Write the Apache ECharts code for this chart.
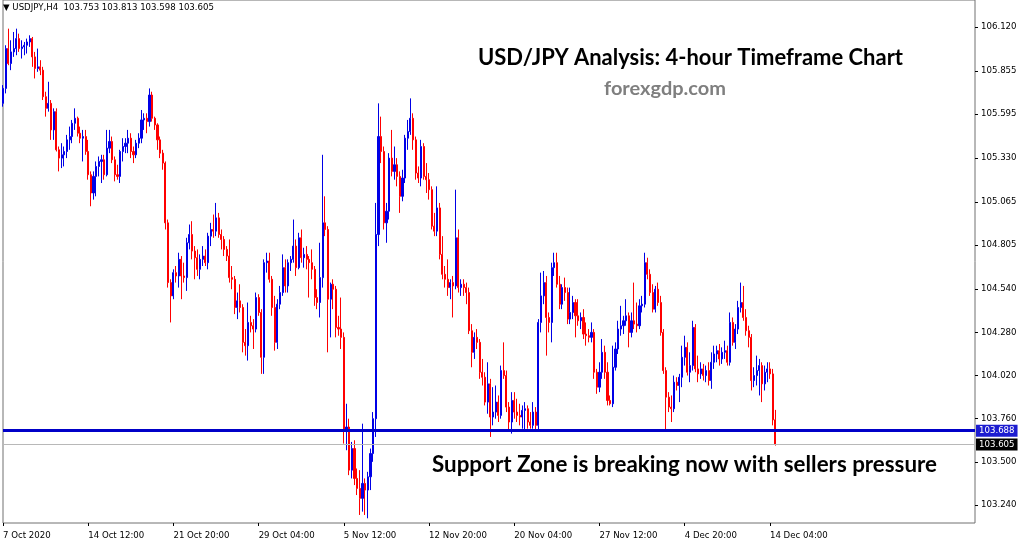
<!DOCTYPE html>
<html>
<head>
<meta charset="utf-8">
<script src="https://cdn.jsdelivr.net/npm/echarts@6/dist/echarts.min.js"></script>
<style>
html,body{margin:0;padding:0;background:#ffffff;}
#chart{width:1024px;height:546px;}
</style>
</head>
<body>
<div id="chart"></div>
<script>
// ---------- data ----------
const symbolName = 'USDJPY,H4';
// [open, high, low, close], one row per H4 bar starting 7 Oct 2020 04:00
const candles = [
[105.66,105.77,105.64,105.75],[105.75,106.01,105.72,105.99],[105.99,106.11,105.89,105.90],[105.90,106.04,105.86,105.97],
[105.97,106.09,105.94,105.99],[105.99,106.11,105.95,106.05],[106.05,106.08,105.97,105.99],[105.99,106.04,105.93,106.00],
[106.00,106.03,105.95,106.01],[106.01,106.05,105.96,106.03],[106.03,106.07,106.00,106.05],[106.05,106.06,105.88,105.94],
[105.94,105.97,105.81,105.87],[105.87,105.99,105.85,105.88],[105.88,105.92,105.83,105.86],[105.86,105.88,105.68,105.70],
[105.70,105.73,105.58,105.63],[105.63,105.79,105.61,105.66],[105.66,105.68,105.44,105.50],[105.50,105.63,105.44,105.61],
[105.61,105.63,105.37,105.38],[105.38,105.40,105.25,105.33],[105.33,105.42,105.27,105.35],[105.35,105.40,105.28,105.37],
[105.37,105.47,105.33,105.44],[105.44,105.52,105.38,105.46],[105.46,105.56,105.42,105.54],[105.54,105.63,105.50,105.57],
[105.57,105.58,105.46,105.48],[105.48,105.52,105.42,105.45],[105.45,105.50,105.31,105.46],[105.46,105.50,105.35,105.37],
[105.37,105.44,105.20,105.23],[105.23,105.25,105.04,105.12],[105.12,105.25,105.08,105.22],[105.22,105.31,105.10,105.28],
[105.28,105.34,105.22,105.31],[105.31,105.35,105.18,105.32],[105.32,105.35,105.20,105.23],[105.23,105.50,105.22,105.39],
[105.39,105.50,105.36,105.43],[105.43,105.46,105.30,105.32],[105.32,105.34,105.19,105.23],[105.23,105.29,105.20,105.22],
[105.22,105.38,105.18,105.37],[105.37,105.45,105.31,105.40],[105.40,105.45,105.36,105.42],[105.42,105.50,105.36,105.45],
[105.45,105.48,105.33,105.37],[105.37,105.40,105.30,105.35],[105.35,105.44,105.33,105.42],[105.42,105.48,105.39,105.45],
[105.45,105.62,105.42,105.56],[105.56,105.60,105.50,105.57],[105.57,105.60,105.48,105.55],[105.55,105.75,105.52,105.71],
[105.71,105.73,105.55,105.57],[105.57,105.58,105.50,105.53],[105.53,105.54,105.38,105.44],[105.44,105.46,105.33,105.36],
[105.36,105.38,105.26,105.30],[105.30,105.31,104.90,104.94],[104.94,104.96,104.55,104.58],[104.58,104.60,104.34,104.50],
[104.50,104.66,104.48,104.64],[104.64,104.68,104.58,104.62],[104.62,104.76,104.55,104.72],[104.72,104.74,104.48,104.62],
[104.62,104.70,104.58,104.61],[104.61,104.85,104.53,104.82],[104.82,104.93,104.78,104.87],[104.87,104.95,104.72,104.77],
[104.77,104.80,104.60,104.73],[104.73,104.78,104.62,104.66],[104.66,104.75,104.60,104.72],[104.72,104.80,104.68,104.74],
[104.74,104.78,104.68,104.70],[104.70,104.88,104.66,104.86],[104.86,104.94,104.80,104.90],[104.90,104.99,104.85,104.89],
[104.89,105.06,104.86,104.97],[104.97,105.00,104.85,104.87],[104.87,104.90,104.78,104.84],[104.84,104.86,104.74,104.78],
[104.78,104.80,104.71,104.74],[104.74,104.84,104.58,104.61],[104.61,104.68,104.54,104.60],[104.60,104.62,104.39,104.43],
[104.43,104.52,104.36,104.47],[104.47,104.57,104.40,104.43],[104.43,104.45,104.16,104.22],[104.22,104.30,104.14,104.20],
[104.20,104.46,104.11,104.34],[104.34,104.38,104.28,104.32],[104.32,104.36,104.18,104.30],[104.30,104.52,104.28,104.49],
[104.49,104.51,104.38,104.40],[104.40,104.42,104.03,104.13],[104.13,104.72,104.03,104.70],[104.70,104.76,104.64,104.71],
[104.71,104.76,104.58,104.60],[104.60,104.62,104.38,104.43],[104.43,104.50,104.17,104.22],[104.22,104.48,104.18,104.45],
[104.45,104.56,104.42,104.52],[104.52,104.75,104.50,104.67],[104.67,104.72,104.52,104.56],[104.56,104.72,104.52,104.70],
[104.70,104.74,104.65,104.72],[104.72,104.96,104.70,104.80],[104.80,104.84,104.62,104.67],[104.67,104.88,104.66,104.85],
[104.85,104.90,104.70,104.73],[104.73,104.79,104.67,104.75],[104.75,104.80,104.66,104.72],[104.72,104.74,104.49,104.70],
[104.70,104.78,104.60,104.66],[104.66,104.68,104.44,104.49],[104.49,104.54,104.42,104.46],[104.46,104.82,104.37,104.61],
[104.61,105.35,104.55,104.94],[104.94,105.10,104.86,104.90],[104.90,104.92,104.16,104.48],[104.48,104.58,104.25,104.57],
[104.57,104.60,104.42,104.54],[104.54,104.56,104.25,104.31],[104.31,104.38,104.26,104.30],[104.30,104.49,104.18,104.25],
[104.25,104.28,103.61,103.69],[103.69,103.85,103.57,103.71],[103.71,103.76,103.42,103.45],[103.45,103.62,103.40,103.58],
[103.58,103.63,103.36,103.40],[103.40,103.46,103.30,103.34],[103.34,103.45,103.18,103.28],[103.28,103.73,103.20,103.37],
[103.37,103.40,103.18,103.33],[103.33,103.44,103.16,103.41],[103.41,103.58,103.33,103.55],[103.55,103.80,103.50,103.76],
[103.76,105.06,103.65,104.87],[104.87,105.66,104.80,105.46],[105.46,105.58,105.30,105.37],[105.37,105.40,104.90,104.94],
[104.94,105.06,104.82,105.01],[105.01,105.36,104.96,105.33],[105.33,105.50,105.22,105.25],[105.25,105.40,105.20,105.29],
[105.29,105.33,105.16,105.22],[105.22,105.25,105.00,105.10],[105.10,105.26,105.07,105.21],[105.21,105.47,105.18,105.45],
[105.45,105.56,105.38,105.49],[105.49,105.69,105.47,105.57],[105.57,105.60,105.38,105.44],[105.44,105.46,105.20,105.24],
[105.24,105.28,105.18,105.21],[105.21,105.44,105.16,105.40],[105.40,105.42,105.20,105.22],[105.22,105.30,105.12,105.20],
[105.20,105.24,105.08,105.14],[105.14,105.16,104.90,104.92],[104.92,105.00,104.86,104.89],[104.89,105.16,104.86,105.03],
[105.03,105.06,104.72,104.75],[104.75,104.86,104.60,104.63],[104.63,104.68,104.55,104.60],[104.60,104.72,104.50,104.55],
[104.55,104.60,104.48,104.58],[104.58,104.62,104.37,104.56],[104.56,105.14,104.54,104.85],[104.85,104.90,104.52,104.55],
[104.55,104.60,104.50,104.57],[104.57,104.60,104.50,104.55],[104.55,104.58,104.45,104.52],[104.52,104.55,104.27,104.29],
[104.29,104.33,104.07,104.16],[104.16,104.28,104.12,104.25],[104.25,104.30,104.18,104.22],[104.22,104.24,104.00,104.04],
[104.04,104.12,103.96,104.01],[104.01,104.04,103.84,103.86],[103.86,104.10,103.79,103.97],[103.97,104.00,103.65,103.77],
[103.77,103.95,103.72,103.80],[103.80,103.96,103.76,103.86],[103.86,103.90,103.74,103.78],[103.78,104.08,103.76,104.05],
[104.05,104.22,104.00,104.02],[104.02,104.05,103.80,103.83],[103.83,103.86,103.69,103.74],[103.74,103.92,103.67,103.87],
[103.87,103.92,103.76,103.80],[103.80,103.88,103.74,103.78],[103.78,103.85,103.72,103.77],[103.77,103.84,103.70,103.81],
[103.81,103.86,103.68,103.82],[103.82,103.84,103.70,103.74],[103.74,103.80,103.70,103.72],[103.72,103.86,103.70,103.80],
[103.80,103.83,103.68,103.72],[103.72,104.36,103.69,104.34],[104.34,104.64,104.28,104.50],[104.50,104.65,104.45,104.58],
[104.58,104.62,104.14,104.37],[104.37,104.40,104.28,104.34],[104.34,104.70,104.22,104.67],[104.67,104.76,104.62,104.70],
[104.70,104.76,104.55,104.57],[104.57,104.62,104.42,104.45],[104.45,104.57,104.42,104.55],[104.55,104.61,104.47,104.52],
[104.52,104.55,104.33,104.36],[104.36,104.55,104.33,104.40],[104.40,104.50,104.36,104.46],[104.46,104.48,104.25,104.38],
[104.38,104.48,104.32,104.35],[104.35,104.40,104.30,104.37],[104.37,104.42,104.24,104.27],[104.27,104.34,104.20,104.26],
[104.26,104.30,104.22,104.25],[104.25,104.34,104.22,104.28],[104.28,104.30,104.00,104.04],[104.04,104.06,103.91,103.95],
[103.95,104.10,103.92,104.04],[104.04,104.24,104.00,104.16],[104.16,104.20,104.00,104.04],[104.04,104.10,103.84,103.87],
[103.87,103.90,103.84,103.85],[103.85,104.20,103.83,104.07],[104.07,104.22,104.05,104.18],[104.18,104.35,104.15,104.30],
[104.30,104.44,104.26,104.32],[104.32,104.38,104.27,104.35],[104.35,104.48,104.32,104.38],[104.38,104.40,104.19,104.28],
[104.28,104.40,104.25,104.35],[104.35,104.58,104.30,104.33],[104.33,104.46,104.28,104.32],[104.32,104.48,104.30,104.44],
[104.44,104.50,104.40,104.45],[104.45,104.76,104.43,104.70],[104.70,104.73,104.60,104.63],[104.63,104.66,104.50,104.52],
[104.52,104.57,104.40,104.42],[104.42,104.56,104.40,104.54],[104.54,104.58,104.44,104.46],[104.46,104.50,104.26,104.28],
[104.28,104.30,104.03,104.05],[104.05,104.07,103.68,103.89],[103.89,103.92,103.80,103.83],[103.83,103.90,103.74,103.82],
[103.82,104.02,103.80,103.98],[103.98,104.01,103.93,103.96],[103.96,104.03,103.86,104.01],[104.01,104.20,103.95,104.13],
[104.13,104.26,104.08,104.19],[104.19,104.22,104.02,104.04],[104.04,104.16,103.98,104.08],[104.08,104.35,104.05,104.31],
[104.31,104.33,104.04,104.06],[104.06,104.14,103.98,104.03],[104.03,104.10,104.00,104.06],[104.06,104.09,103.99,104.02],
[104.02,104.08,103.98,104.05],[104.05,104.10,103.96,103.99],[103.99,104.16,103.94,104.10],[104.10,104.20,104.06,104.15],
[104.15,104.20,104.10,104.17],[104.17,104.21,104.08,104.12],[104.12,104.19,104.09,104.16],[104.16,104.23,104.12,104.17],
[104.17,104.20,104.08,104.10],[104.10,104.40,104.08,104.34],[104.34,104.37,104.20,104.22],[104.22,104.33,104.18,104.30],
[104.30,104.47,104.27,104.43],[104.43,104.58,104.40,104.46],[104.46,104.56,104.35,104.37],[104.37,104.42,104.26,104.29],
[104.29,104.32,104.19,104.25],[104.25,104.27,103.93,103.99],[103.99,104.07,103.95,104.02],[104.02,104.14,103.96,104.05],
[104.05,104.12,103.90,104.08],[104.08,104.10,103.86,103.97],[103.97,104.08,103.93,104.04],[104.04,104.10,103.98,104.06],
[104.06,104.10,104.00,104.03],[104.03,104.06,103.72,103.753],[103.753,103.813,103.598,103.605]
];
const supportLevel = 103.688;
const bidPrice = 103.605;
const priceTicks = [103.240, 103.500, 103.760, 104.020, 104.280, 104.540, 104.805, 105.065, 105.330, 105.595, 105.855, 106.120];
const timeTickLabels = ['7 Oct 2020', '14 Oct 12:00', '21 Oct 20:00', '29 Oct 04:00', '5 Nov 12:00',
                        '12 Nov 20:00', '20 Nov 04:00', '27 Nov 12:00', '4 Dec 20:00', '14 Dec 04:00'];
const firstBarTime = '2020-10-07T04:00:00Z';
const titleText = 'USD/JPY Analysis: 4-hour Timeframe Chart';
const siteText = 'forexgdp.com';
const noteText = 'Support Zone is breaking now with sellers pressure';

// ---------- layout / helpers ----------
const MONTHS = ['Jan','Feb','Mar','Apr','May','Jun','Jul','Aug','Sep','Oct','Nov','Dec'];
const TOTAL_SLOTS = 366;           // bars visible across the plot incl. empty right shift
const Y_MAX = 106.2827, Y_MIN = 103.1316;
const AXIS_FONT = 'DejaVu Sans';

function buildCategories(startIso, count) {
  const out = [];
  let t = Date.parse(startIso);
  while (out.length < count) {
    const d = new Date(t);
    const wd = d.getUTCDay();
    if (wd !== 0 && wd !== 6) {
      out.push(d.getUTCDate() + ' ' + MONTHS[d.getUTCMonth()] + ' ' +
               String(d.getUTCHours()).padStart(2, '0') + ':00');
    }
    t += 4 * 3600 * 1000;
  }
  return out;
}
const categories = buildCategories(firstBarTime, TOTAL_SLOTS);
function tickText(idx, cat) {
  if (idx === 0) return timeTickLabels[0];
  return timeTickLabels.indexOf(cat) > 0 ? cat : null;
}
function fitScale(text, font, targetW) {
  const ctx = document.createElement('canvas').getContext('2d');
  ctx.font = font;
  return targetW / ctx.measureText(text).width;
}

const last = candles[candles.length - 1];
const headerText = '\u25BC ' + symbolName + '  ' + last.map(v => v.toFixed(3)).join(' ');

const titleFont = 'bold 23px Lato';
const siteFont = 'bold 19px Lato';
const noteFont = 'bold 23px Lato';

const chart = echarts.init(document.getElementById('chart'), null, {renderer: 'canvas'});
chart.setOption({
  animation: false,
  backgroundColor: '#ffffff',
  grid: {left: 2, right: 49, top: 0, bottom: 23, show: true, borderColor: '#707070', borderWidth: 1},
  xAxis: {
    type: 'category',
    data: categories,
    boundaryGap: false,
    axisLine: {show: false},
    splitLine: {show: false},
    axisTick: {show: true, interval: (i, v) => tickText(i, v) !== null, length: 3,
               lineStyle: {color: '#000'}},
    axisLabel: {interval: (i, v) => tickText(i, v) !== null,
                formatter: (v, i) => tickText(i, v) || '',
                align: 'left', margin: 8, color: '#000',
                fontFamily: AXIS_FONT, fontSize: 8.6}
  },
  yAxis: {
    type: 'value',
    position: 'right',
    min: Y_MIN, max: Y_MAX,
    splitLine: {show: false},
    axisLine: {show: false},
    axisTick: {show: true, customValues: priceTicks, length: 3, lineStyle: {color: '#000'}},
    axisLabel: {customValues: priceTicks, formatter: v => v.toFixed(3), margin: 6,
                color: '#000', fontFamily: AXIS_FONT, fontSize: 8.6}
  },
  series: [{
    type: 'candlestick',
    data: candles.map(c => [c[0], c[3], c[2], c[1]]),
    barWidth: 1.6,
    itemStyle: {color: '#0000e6', color0: '#ff0000', borderColor: '#0000e6',
                borderColor0: '#ff0000', borderWidth: 1},
    markLine: {
      silent: true,
      symbol: ['none', 'none'],
      animation: false,
      precision: 3,
      data: [
        {yAxis: supportLevel,
         lineStyle: {color: '#0000c8', width: 3, type: 'solid'},
         label: {show: true, position: 'end', distance: 1, formatter: () => supportLevel.toFixed(3),
                 color: '#ffffff', backgroundColor: '#1c1cd0', padding: [2, 3, 1, 3],
                 fontFamily: AXIS_FONT, fontSize: 8.6}},
        {yAxis: bidPrice,
         lineStyle: {color: '#b8b8b8', width: 1, type: 'solid'},
         label: {show: true, position: 'end', distance: 1, formatter: () => bidPrice.toFixed(3),
                 color: '#ffffff', backgroundColor: '#000000', padding: [2, 3, 1, 3],
                 fontFamily: AXIS_FONT, fontSize: 8.6}}
      ]
    }
  }],
  graphic: [
    {type: 'text', x: 3, y: 8, z: 100,
     style: {text: headerText, font: '8.6px "DejaVu Sans"', fill: '#000', verticalAlign: 'middle'}},
    {type: 'text', x: 478, y: 58, z: 100, scaleX: fitScale(titleText, titleFont, 425),
     style: {text: titleText, font: titleFont, fill: '#000', verticalAlign: 'middle'}},
    {type: 'text', x: 604, y: 88.5, z: 100, scaleX: fitScale(siteText, siteFont, 122),
     style: {text: siteText, font: siteFont, fill: '#7f7f7f', verticalAlign: 'middle'}},
    {type: 'text', x: 432, y: 465, z: 100, scaleX: fitScale(noteText, noteFont, 505),
     style: {text: noteText, font: noteFont, fill: '#000', verticalAlign: 'middle'}}
  ]
});
</script>
</body>
</html>
